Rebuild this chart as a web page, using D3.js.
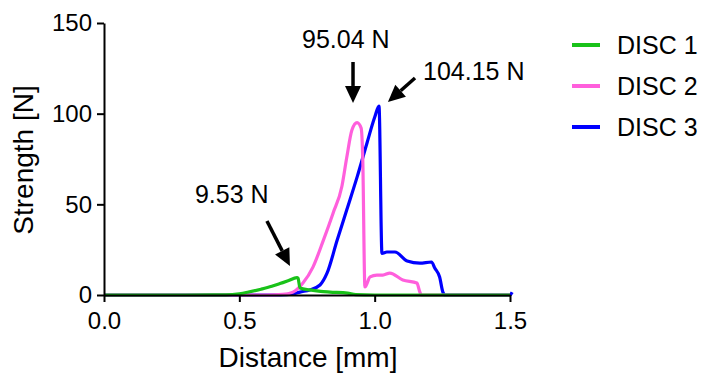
<!DOCTYPE html>
<html>
<head>
<meta charset="utf-8">
<script src="https://cdn.jsdelivr.net/npm/d3@7"></script>
<style>
  body { margin: 0; background: #fff; }
  text { font-family: "Liberation Sans", Arial, sans-serif; fill: #000; }
</style>
</head>
<body>
<div id="container"></div>
<script>
let w = 703;
let h = 374;

// data (distance in mm, strength in N)
let disc1Distance = [0, 0.3, 0.45, 0.5, 0.53, 0.58, 0.62, 0.65, 0.68, 0.713, 0.717, 0.724, 0.76, 0.8, 0.835, 0.9, 0.93, 1.0, 1.5];
let disc1Strength = [0, 0, 0.1, 0.7, 1.5, 3.2, 4.8, 6.3, 7.8, 9.53, 9.2, 3.9, 2.8, 2.0, 1.6, 1.0, 0.2, 0, 0];

let disc2Distance = [0, 0.6, 0.66, 0.698, 0.735, 0.772, 0.81, 0.846, 0.879, 0.897, 0.916, 0.935, 0.95, 0.956, 0.964, 0.983, 1.008, 1.03, 1.056, 1.104, 1.156, 1.167, 1.172, 1.5];
let disc2Strength = [0, 0, 0.3, 1.6, 6.6, 15.4, 30, 45, 60, 76, 91, 95.04, 92, 75, 4.4, 10, 11, 11, 12.1, 8.3, 6.6, 1.6, 0, 0];

let disc3Distance = [0, 0.65, 0.7, 0.724, 0.76, 0.798, 0.824, 0.861, 0.897, 0.935, 0.972, 1.0, 1.016, 1.027, 1.045, 1.075, 1.12, 1.167, 1.21, 1.222, 1.24, 1.252, 1.26, 1.5, 1.508];
let disc3Strength = [0, 0, 0.6, 1.6, 2.8, 5.5, 12, 30, 47, 65, 84, 98, 104.15, 23, 23.7, 23.7, 18.8, 17.6, 18.2, 14.9, 9.9, 1.6, 0, 0, 1.5];

let seriesNames = ["DISC 1", "DISC 2", "DISC 3"];
let seriesColors = ["#19c219", "#ff5fdc", "#0000ff"];

let xTicks = [0, 0.5, 1.0, 1.5];
let yTicks = [0, 50, 100, 150];

// peak labels and arrows, in data units
let peakLabels = ["9.53 N", "95.04 N", "104.15 N"];
let labelPos = [[0.336, 50.7], [0.7315, 136.2], [1.1786, 118.6]];
let arrowTail = [[0.602, 40.8], [0.92, 128.5], [1.149, 119.7]];
let arrowTip = [[0.687, 16], [0.92, 105.9], [1.049, 106.4]];

let viz = d3.select("#container")
  .append("svg")
    .attr("width", w)
    .attr("height", h)
    .style("background-color", "white");

let xScale = d3.scaleLinear().domain([0, 1.5]).range([104, 510]);
let yScale = d3.scaleLinear().domain([0, 150]).range([295, 23]);

let series = [
  d3.zip(disc1Distance, disc1Strength),
  d3.zip(disc2Distance, disc2Strength),
  d3.zip(disc3Distance, disc3Strength)
];

let lineMaker = d3.line()
  .x(function(d){ return xScale(d[0]); })
  .y(function(d){ return yScale(d[1]); })
  .curve(d3.curveMonotoneX);

// draw blue first, green last (green sits on top)
[2, 1, 0].forEach(function(i){
  viz.append("path")
    .datum(series[i])
    .attr("d", lineMaker)
    .attr("fill", "none")
    .attr("stroke", seriesColors[i])
    .attr("stroke-width", 3.2)
    .attr("stroke-linejoin", "round");
});

// axes
let xAxis = d3.axisBottom(xScale).tickValues(xTicks).tickFormat(d3.format(".1f"))
  .tickSize(7).tickSizeOuter(0).tickPadding(10);
let xAxisG = viz.append("g").attr("class", "xaxis")
  .attr("transform", "translate(0," + yScale(0) + ")")
  .call(xAxis);

let yAxis = d3.axisLeft(yScale).tickValues(yTicks)
  .tickSize(7).tickSizeOuter(0).tickPadding(5);
let yAxisG = viz.append("g").attr("class", "yaxis")
  .attr("transform", "translate(" + xScale(0) + ",0)")
  .call(yAxis);

viz.selectAll(".xaxis path, .yaxis path, .xaxis line, .yaxis line")
  .attr("stroke", "#000").attr("stroke-width", 2);
viz.selectAll(".xaxis text, .yaxis text")
  .style("font-family", "'Liberation Sans', Arial, sans-serif")
  .style("font-size", "24px")
  .attr("fill", "#000");

// axis titles
viz.append("text")
  .attr("x", 308).attr("y", 367)
  .attr("text-anchor", "middle")
  .style("font-size", "28px")
  .text("Distance [mm]");

viz.append("text")
  .attr("transform", "translate(33,160) rotate(-90)")
  .attr("text-anchor", "middle")
  .style("font-size", "28px")
  .text("Strength [N]");

// legend
let legendY = [45, 86, 127];
seriesNames.forEach(function(name, i){
  viz.append("line")
    .attr("x1", 572).attr("x2", 600)
    .attr("y1", legendY[i]).attr("y2", legendY[i])
    .attr("stroke", seriesColors[i]).attr("stroke-width", 4);
  viz.append("text")
    .attr("x", 617).attr("y", legendY[i])
    .attr("dy", "0.36em")
    .style("font-size", "25px")
    .text(name);
});

// arrows with filled heads
function drawArrow(tail, tip){
  let x1 = xScale(tail[0]), y1 = yScale(tail[1]);
  let x2 = xScale(tip[0]), y2 = yScale(tip[1]);
  let ang = Math.atan2(y2 - y1, x2 - x1);
  let headLen = 17, headHalf = 8;
  let bx = x2 - headLen * Math.cos(ang), by = y2 - headLen * Math.sin(ang);
  viz.append("line")
    .attr("x1", x1).attr("y1", y1).attr("x2", bx).attr("y2", by)
    .attr("stroke", "#000").attr("stroke-width", 3.5);
  let px = -Math.sin(ang) * headHalf, py = Math.cos(ang) * headHalf;
  viz.append("polygon")
    .attr("points", [[x2, y2], [bx + px, by + py], [bx - px, by - py]].map(function(p){ return p.join(","); }).join(" "))
    .attr("fill", "#000");
}

peakLabels.forEach(function(lab, i){
  viz.append("text")
    .attr("x", xScale(labelPos[i][0]))
    .attr("y", yScale(labelPos[i][1]))
    .style("font-size", "25px")
    .text(lab);
  drawArrow(arrowTail[i], arrowTip[i]);
});
</script>
</body>
</html>
